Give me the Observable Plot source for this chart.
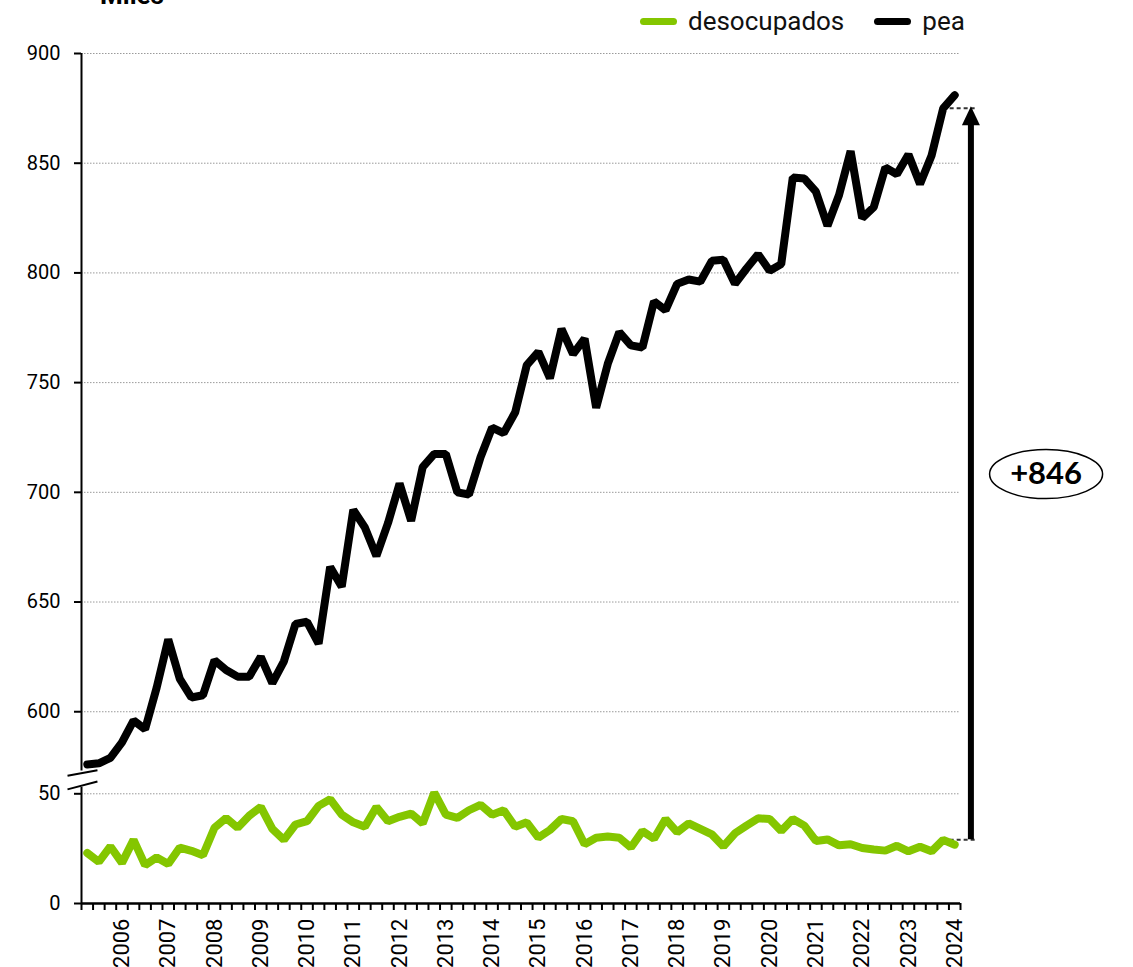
<!DOCTYPE html>
<html>
<head>
<meta charset="utf-8">
<script src="https://cdn.jsdelivr.net/npm/d3@7"></script>
<script src="https://cdn.jsdelivr.net/npm/@observablehq/plot@0.6"></script>
<style>
  body { margin: 0; background: #fff; font-family: Roboto, sans-serif; }
  #wrap { position: relative; width: 1133px; height: 967px; overflow: hidden; background: #fff; }
  #title { position: absolute; left: 100px; top: -18px; font: bold 26px Roboto, sans-serif; line-height: 1; color: #000; }
  #legend { position: absolute; left: 640px; top: 6px; display: flex; align-items: center; font-size: 26px; line-height: 30px; color: #111; }
  #legend .sw { display: inline-block; width: 37px; height: 7px; border-radius: 4px; margin-right: 11px; }
  #legend .item { display: flex; align-items: center; margin-right: 30px; }
  #chart { position: absolute; left: 0; top: 0; }
</style>
</head>
<body>
<div id="wrap">
  <div id="chart"></div>
  <div id="title">Miles</div>
  <div id="legend"></div>
</div>
<script>
// ---- data (quarterly, index 0..75) ----
const years = [2006, 2007, 2008, 2009, 2010, 2011, 2012, 2013, 2014, 2015, 2016, 2017, 2018, 2019, 2020, 2021, 2022, 2023, 2024];
const pea = [
  576, 576.5, 579, 586, 596, 592, 611, 633, 615, 606.5,
  607.5, 623.5, 619, 616, 616, 625, 613, 623, 640, 641,
  631, 666, 657, 692, 684, 671, 686, 704, 687, 711.5,
  717.5, 717.5, 700, 699, 716, 729.5, 727, 736.5, 758, 764,
  752, 774.5, 763, 770, 738.5, 758.5, 773, 767, 766, 787,
  783, 795, 797, 796, 805.5, 806, 795, 802, 808.5, 801,
  804, 843.5, 843, 837, 821.5, 835.5, 855.5, 825, 830, 848,
  845, 854, 840.5, 853.5, 875, 881
];
const desocupados = [
  23, 19, 26, 18.5, 29, 17.5, 21, 18, 25.5, 24,
  22, 34.5, 39, 34.5, 40, 44, 34, 29, 36, 37.5,
  44.5, 47.5, 40.5, 37, 35, 44, 37.5, 39.5, 41, 36.5,
  50.5, 40.5, 39, 42.5, 45, 40.5, 42.5, 35, 37, 30,
  33.5, 38.5, 37.5, 27, 30, 30.5, 30, 25.5, 33, 29.5,
  38.5, 32.5, 36.5, 34, 31.5, 26, 32, 35.5, 38.8, 38.5,
  33, 38.5, 35.5, 28.5, 29.2, 26.5, 27, 25.3, 24.6, 24.1,
  26.3, 23.8, 25.9, 23.8, 29, 26.8
];
const seriesNames = ["desocupados", "pea"];
const seriesColors = ["#84c600", "#000000"];
const lowerTicks = [0, 50];
const upperTicks = [600, 650, 700, 750, 800, 850, 900];
const annotationLabel = "+846";

// ---- broken axis: lower segment [0, 53], upper segment [573, 900] ----
const lowerMax = 53, upperMin = 573, upperMax = 900, gapUnits = 7.4;
const offset = upperMin - (lowerMax + gapUnits);
const up = v => v - offset;
const yMax = up(upperMax);

const n = pea.length;
const rows = [];
for (let i = 0; i < n; i++) {
  rows.push({i, s: "desocupados", v: desocupados[i], t: desocupados[i]});
  rows.push({i, s: "pea", v: pea[i], t: up(pea[i])});
}

const tickPos = [...lowerTicks, ...upperTicks.map(up)];
const tickLab = new Map(tickPos.map((p, k) => [p, String([...lowerTicks, ...upperTicks][k])]));
const gridPos = tickPos.filter(p => p > 0);
const labelIdx = years.map((y, k) => 3 + 4 * k);
const labelMap = new Map(labelIdx.map((p, k) => [p, String(years[k])]));
const boundaries = d3.range(-0.5, n + 0.5, 1);

// annotation (second-to-last quarter)
const ai = n - 2;
const peaA = up(pea[ai]);
const desA = desocupados[ai];
const arrowX = n + 0.4;
const dashEnd = n + 0.97;
const mid = (peaA + desA) / 2;

const arrowHead = {
  draw(ctx) { ctx.moveTo(0, -2); ctx.lineTo(9, 17); ctx.lineTo(-9, 17); ctx.closePath(); }
};
const ellipse = {
  draw(ctx) {
    const rx = 56.5, ry = 24.5, k = 0.5523;
    ctx.moveTo(rx, 0);
    ctx.bezierCurveTo(rx, ry * k, rx * k, ry, 0, ry);
    ctx.bezierCurveTo(-rx * k, ry, -rx, ry * k, -rx, 0);
    ctx.bezierCurveTo(-rx, -ry * k, -rx * k, -ry, 0, -ry);
    ctx.bezierCurveTo(rx * k, -ry, rx, -ry * k, rx, 0);
    ctx.closePath();
  }
};

const chart = Plot.plot({
  width: 1133,
  height: 967,
  marginLeft: 81,
  marginRight: 173,
  marginTop: 53,
  marginBottom: 64,
  style: {fontFamily: "Roboto, sans-serif", fontSize: "20px", color: "#000", background: "transparent", overflow: "visible"},
  x: {domain: [-0.5, n - 0.5], axis: null},
  y: {domain: [0, yMax], axis: null},
  color: {domain: seriesNames, range: seriesColors},
  marks: [
    Plot.ruleY(gridPos, {stroke: "#9a9a9a", strokeWidth: 1, strokeDasharray: "1.5,1.5"}),
    Plot.ruleX([-0.5], {y1: 0, y2: lowerMax, stroke: "#000", strokeWidth: 2}),
    Plot.ruleX([-0.5], {y1: up(upperMin), y2: yMax, stroke: "#000", strokeWidth: 2}),
    Plot.ruleY([0], {stroke: "#000", strokeWidth: 2.5}),
    Plot.link([
      {x1: -1.71, x2: 0.88, y1: lowerMax + gapUnits * 0.7, y2: lowerMax + gapUnits * 1.05},
      {x1: -1.71, x2: 0.88, y1: lowerMax - 1, y2: lowerMax + gapUnits * 0.35}
    ], {x1: "x1", x2: "x2", y1: "y1", y2: "y2", stroke: "#000", strokeWidth: 2}),
    Plot.axisY({ticks: tickPos, tickFormat: d => tickLab.get(d), tickSize: 7, tickPadding: 14, strokeWidth: 2, fontSize: 20}),
    Plot.axisX({ticks: boundaries, tickFormat: () => "", tickSize: 7, strokeWidth: 2}),
    Plot.axisX({ticks: labelIdx, tickFormat: d => labelMap.get(d), tickSize: 0, tickPadding: 15, tickRotate: -90, fontSize: 22}),
    Plot.ruleY([peaA, desA], {x1: ai, x2: dashEnd, stroke: "#333", strokeWidth: 2, strokeDasharray: "4,3"}),
    Plot.line(rows, {x: "i", y: "t", z: "s", stroke: "s", strokeWidth: 8, strokeLinejoin: "miter", strokeLinecap: "round"}),
    Plot.ruleX([arrowX], {y1: desA, y2: peaA - 6, stroke: "#000", strokeWidth: 6}),
    Plot.dot([peaA], {x: () => arrowX, y: d => d, symbol: arrowHead, r: 1, fill: "#000", stroke: "none"}),
    Plot.dot([mid], {x: () => arrowX + 6.5, y: d => d, symbol: ellipse, r: 1, fill: "#fff", stroke: "#000", strokeWidth: 1.5}),
    Plot.text([mid], {x: () => arrowX + 6.5, y: d => d, text: () => annotationLabel, fontFamily: "Lato, sans-serif", fontWeight: "bold", fontSize: 31, fill: "#000"})
  ]
});
document.getElementById("chart").appendChild(chart);

const legend = document.getElementById("legend");
seriesNames.forEach((name, k) => {
  const item = document.createElement("span");
  item.className = "item";
  const sw = document.createElement("span");
  sw.className = "sw";
  sw.style.background = seriesColors[k];
  item.appendChild(sw);
  item.appendChild(document.createTextNode(name));
  legend.appendChild(item);
});
</script>
</body>
</html>
